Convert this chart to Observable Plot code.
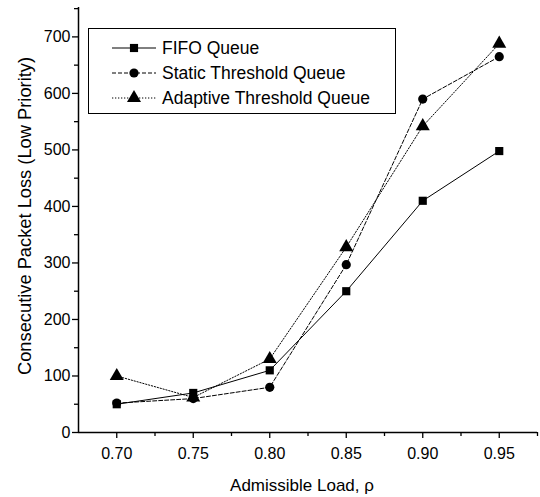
<!DOCTYPE html>
<html>
<head>
<meta charset="utf-8">
<script src="https://cdn.jsdelivr.net/npm/d3@7"></script>
<script src="https://cdn.jsdelivr.net/npm/@observablehq/plot@0.6"></script>
<style>
  html, body { margin: 0; padding: 0; background: #fff; }
  #wrap { position: relative; width: 540px; height: 497px; font-family: "Liberation Sans", Arial, sans-serif; }
  #legend { position: absolute; left: 88px; top: 28px; width: 308px; height: 86px; border: 1px solid #000; background: #fff; box-sizing: border-box; }
  #legend .row { position: absolute; left: 0; height: 24px; display: flex; align-items: center; }
  #legend .row span { font-size: 17.5px; color: #000; margin-left: 6px; }
</style>
</head>
<body>
<div id="wrap"></div>
<script>
const loads = [0.70, 0.75, 0.80, 0.85, 0.90, 0.95];
const fifo = [50, 70, 110, 250, 410, 498];
const staticQ = [52, 60, 80, 297, 590, 665];
const adaptive = [100, 62, 130, 328, 542, 688];
const seriesNames = ["FIFO Queue", "Static Threshold Queue", "Adaptive Threshold Queue"];
const xTicks = [0.70, 0.75, 0.80, 0.85, 0.90, 0.95];
const xMinor = [0.725, 0.775, 0.825, 0.875, 0.925, 0.975];
const yTicks = [0, 100, 200, 300, 400, 500, 600, 700];
const yMinor = [50, 150, 250, 350, 450, 550, 650, 750];

const styles = [
  {symbol: "square", dash: null, r: 4.6},
  {symbol: "circle", dash: "4,2", r: 4.6},
  {symbol: "triangle", dash: "1.3,1.7", r: 5.2}
];
const values = [fifo, staticQ, adaptive];
const data = [];
values.forEach((arr, i) => arr.forEach((v, j) => data.push({x: loads[j], y: v, s: seriesNames[i]})));

const marks = [];
values.forEach((arr, i) => {
  const d = data.filter(p => p.s === seriesNames[i]);
  marks.push(Plot.line(d, {x: "x", y: "y", stroke: "#000", strokeWidth: 1, strokeDasharray: styles[i].dash}));
  marks.push(Plot.dot(d, {x: "x", y: "y", symbol: () => styles[i].symbol, fill: "#000", stroke: "none", r: styles[i].r}));
});

const chart = Plot.plot({
  width: 540,
  height: 497,
  marginLeft: 78,
  marginRight: 3,
  marginTop: 7,
  marginBottom: 65,
  style: {fontFamily: "Liberation Sans, Arial, sans-serif", fontSize: "16px", color: "#000", background: "#fff"},
  x: {domain: [0.675, 0.975]},
  y: {domain: [0, 752]},
  symbol: {type: "identity"},
  marks: [
    Plot.axisX({ticks: xTicks, tickFormat: d3.format(".2f"), tickSize: 6, tickPadding: 9, label: null, fontSize: 16, strokeWidth: 1.3}),
    Plot.axisX({ticks: xMinor, tickFormat: () => "", tickSize: 4, label: null, strokeWidth: 1.3}),
    Plot.axisY({ticks: yTicks, tickSize: 6, tickPadding: 2, label: null, fontSize: 16, strokeWidth: 1.3}),
    Plot.axisY({ticks: yMinor, tickFormat: () => "", tickSize: 4, label: null, strokeWidth: 1.3}),
    Plot.ruleY([0], {strokeWidth: 1.5}),
    Plot.ruleX([0.675], {strokeWidth: 1.5}),
    ...marks
  ]
});
const wrap = document.getElementById("wrap");
wrap.appendChild(chart);

const svg = d3.select(chart);
svg.append("text")
  .attr("x", 302).attr("y", 491)
  .attr("text-anchor", "middle")
  .style("font-size", "17px")
  .text("Admissible Load, ρ");
svg.append("text")
  .attr("transform", "translate(31,216) rotate(-90)")
  .attr("text-anchor", "middle")
  .style("font-size", "18.3px")
  .text("Consecutive Packet Loss (Low Priority)");

const legend = document.createElement("div");
legend.id = "legend";
const rowTops = [7, 32, 57];
seriesNames.forEach((name, i) => {
  const row = document.createElement("div");
  row.className = "row";
  row.style.top = rowTops[i] + "px";
  row.style.left = "23px";
  const ns = "http://www.w3.org/2000/svg";
  const s = document.createElementNS(ns, "svg");
  s.setAttribute("width", 44); s.setAttribute("height", 24);
  const ln = document.createElementNS(ns, "line");
  ln.setAttribute("x1", 0); ln.setAttribute("x2", 44); ln.setAttribute("y1", 12); ln.setAttribute("y2", 12);
  ln.setAttribute("stroke", "#000"); ln.setAttribute("stroke-width", 1);
  if (styles[i].dash) ln.setAttribute("stroke-dasharray", styles[i].dash);
  s.appendChild(ln);
  const sym = {square: d3.symbolSquare, circle: d3.symbolCircle, triangle: d3.symbolTriangle}[styles[i].symbol];
  const p = document.createElementNS(ns, "path");
  p.setAttribute("d", d3.symbol(sym, Math.PI * styles[i].r * styles[i].r)());
  p.setAttribute("transform", "translate(22,12)");
  p.setAttribute("fill", "#000");
  s.appendChild(p);
  row.appendChild(s);
  const t = document.createElement("span");
  t.textContent = name;
  row.appendChild(t);
  legend.appendChild(row);
});
wrap.appendChild(legend);
</script>
</body>
</html>
